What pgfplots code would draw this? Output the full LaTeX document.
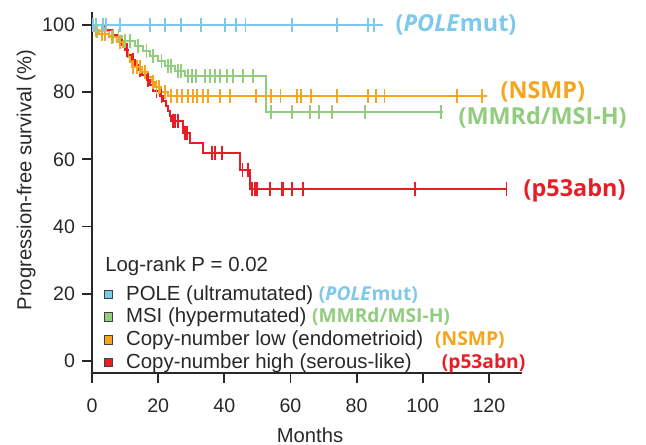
\documentclass[border=0pt]{standalone}
\usepackage{fontspec}
\setmainfont{Liberation Sans}
\newfontfamily\osans{Open Sans}
\usepackage{pgfplots}
\pgfplotsset{compat=1.18}

\definecolor{poleblue}{RGB}{125,200,235}
\definecolor{msigreen}{RGB}{145,205,125}
\definecolor{cnlorange}{RGB}{245,165,30}
\definecolor{cnhred}{RGB}{232,30,38}
\definecolor{axgray}{RGB}{40,40,40}

\newcommand{\tickfont}{\fontsize{9.8}{11}\selectfont}
\newcommand{\lblfont}{\fontsize{10.1}{12}\selectfont}
\newcommand{\legfont}{\fontsize{10.2}{12}\selectfont}
\newcommand{\tagfont}{\osans\bfseries\fontsize{11.7}{14}\selectfont}
\newcommand{\smtag}{\osans\bfseries\fontsize{9.6}{11}\selectfont}

\begin{document}
\begin{tikzpicture}
\begin{axis}[
  scale only axis, width=215pt, height=180.7pt,
  xmin=0, xmax=130, ymin=-3.6, ymax=104,
  axis lines=left,
  axis line style={-, line width=0.9pt, axgray},
  xtick={0,20,...,120}, ytick={0,20,...,100},
  tick align=outside, major tick length=5pt,
  tick style={line width=0.9pt, axgray},
  tick label style={font=\tickfont, text=axgray},
  xticklabel style={yshift=-4.5pt},
  /pgf/number format/assume math mode=true,
  xlabel={Months}, ylabel={Progression-free survival (\%)},
  label style={font=\lblfont, text=axgray},
  xlabel style={at={(axis description cs:0.507,-0.172)}, anchor=center},
  ylabel style={at={(axis description cs:-0.153,0.534)}, anchor=center},
  clip=false,
  legend image code/.code={\draw[#1] (0pt,-2.1pt) rectangle (4.2pt,2.1pt);
    \path[draw=none, fill=none] (0pt,0pt) (9.5pt,0pt);},
  legend style={at={(axis cs:3.4,23.5)}, anchor=north west, draw=none, fill=none,
    font=\legfont, inner sep=0pt, row sep=-0.5pt,
    nodes={inner sep=1.5pt, text=axgray}},
  legend cell align=left,
]
\coordinate (O) at (rel axis cs:0,0);

\addlegendimage{fill=poleblue, draw=black!75, line width=0.5pt}
\addlegendentry{POLE (ultramutated) \textcolor{poleblue}{\smtag(\textit{POLE}mut)}}
\addlegendimage{fill=msigreen, draw=black!75, line width=0.5pt}
\addlegendentry{MSI (hypermutated) \textcolor{msigreen}{\smtag(MMRd/MSI-H)}}
\addlegendimage{fill=cnlorange, draw=black!75, line width=0.5pt}
\addlegendentry{Copy-number low (endometrioid)\hspace{6pt}\textcolor{cnlorange}{\smtag(NSMP)}}
\addlegendimage{fill=cnhred, draw=black!75, line width=0.5pt}
\addlegendentry{Copy-number high (serous-like)\hspace{15pt}\textcolor{cnhred}{\smtag(p53abn)}}

% MSI (hypermutated)
\addplot[forget plot, const plot, msigreen, line width=1pt] coordinates {
(0,100)(0.5,98.3)(5,96.7)(9,95.2)(13,93.7)(15.5,92.2)(17.5,90.8)(20,89.3)(22,87.8)(25,86.3)(28,84.8)(52.6,74.1)(106,74.1)};
\addplot[forget plot, only marks, mark=|, mark size=3.5pt, msigreen, mark options={line width=0.9pt}] coordinates {
(1.5,98.3)(3,98.3)(6.5,96.7)(8,96.7)(10,95.2)(11.5,95.2)(14,93.7)(16.5,92.2)(18.5,90.8)(21,89.3)
(23,87.8)(24,87.8)(26,86.3)(27,86.3)
(29,84.8)(30.3,84.8)(31.5,84.8)(34.2,84.8)(35.7,84.8)(37.2,84.8)(38.7,84.8)(40.8,84.8)(42.7,84.8)(45.7,84.8)(48.7,84.8)
(54.2,74.1)(60.5,74.1)(66,74.1)(68.7,74.1)(72.6,74.1)(82.6,74.1)(105.6,74.1)};

% Copy-number high
\addplot[forget plot, const plot, cnhred, line width=1pt] coordinates {
(0,100)(4,98.5)(6,97)(7.5,95.5)(9,94)(10,92.5)(11,91)(12,89.5)(13,88)(14,86.5)(15,85)(16.5,83.5)(17.5,82)(18.5,80.5)
(20.5,79)(21.5,77.5)(22.5,76)(23,74.5)(23.5,73)(24,71.3)(27.5,67.9)(29.7,64.9)(33.6,62)(44.8,56.8)(47.8,51.2)(125.6,51.2)};
\addplot[forget plot, only marks, mark=|, mark size=3.5pt, cnhred, mark options={line width=0.9pt}] coordinates {
(10.5,92.5)(12.5,89.5)(14.5,86.5)(17,83.5)(19.5,80.5)(21,79)
(24.5,71.3)(25.1,71.3)(26,71.3)(28.1,67.9)(28.7,67.9)(36.3,62)(37.2,62)(39.3,62)(45.5,56.8)(47.2,56.8)
(48.4,51.2)(49.3,51.2)(49.9,51.2)(53.9,51.2)(57.5,51.2)(57.8,51.2)(60.5,51.2)(63.8,51.2)(97.7,51.2)(125.3,51.2)};

% Copy-number low
\addplot[forget plot, const plot, cnlorange, line width=1pt] coordinates {
(0,100)(0.8,98.5)(2,97.4)(5,96.4)(7.5,95)(9.5,93.5)(10.5,92)(11,90.5)(11.5,89)(12,87.5)(15,86)(17,84.5)(18,83)(19,81.5)
(21,80.2)(23,79)(119.5,79)};
\addplot[forget plot, only marks, mark=|, mark size=3.5pt, cnlorange, mark options={line width=0.9pt}] coordinates {
(0.4,100)(1.2,98.5)(3,97.4)(4,97.4)(6,96.4)(8.5,95)(12.5,87.5)(13.5,87.5)(14.5,87.5)(16,86)(18.5,83)(19.5,81.5)(20.3,81.5)(22,80.2)
(23.9,79)(25.7,79)(27.2,79)(29,79)(30.6,79)(31.8,79)(33.6,79)(35.1,79)(38.7,79)(41.8,79)(49.6,79)(54,79)(57,79)(62,79)
(63.2,79)(66.3,79)(74.1,79)(83.5,79)(85.9,79)(88.4,79)(110.4,79)(118,79)};

% POLE
\addplot[forget plot, const plot, poleblue, line width=1pt] coordinates {(0,100)(88,100)};
\addplot[forget plot, only marks, mark=|, mark size=3.5pt, poleblue, mark options={line width=0.9pt}] coordinates {
(0.3,100)(1.2,100)(3.3,100)(4.2,100)(8.5,100)(17.5,100)(22.1,100)(26.9,100)(33,100)(40.2,100)(43.6,100)(46.4,100)
(60.5,100)(74.1,100)(83.5,100)(85.3,100)};

\node[anchor=west, inner sep=0pt, text=poleblue, font=\tagfont] at (axis cs:91.7,100) {(\textit{POLE}mut)};
\node[anchor=west, inner sep=0pt, text=cnlorange, font=\tagfont] at (axis cs:123.4,80) {(NSMP)};
\node[anchor=west, inner sep=0pt, text=msigreen, font=\tagfont] at (axis cs:110.7,72.6) {(MMRd/MSI-H)};
\node[anchor=west, inner sep=0pt, text=cnhred, font=\tagfont] at (axis cs:130.4,50.9) {(p53abn)};
\node[anchor=west, inner sep=0pt, text=axgray, font=\legfont] at (axis cs:3.9,28.3) {Log-rank P = 0.02};
\end{axis}
\pgfresetboundingbox
\useasboundingbox ([shift={(-46pt,-35.5pt)}]O) rectangle ([shift={(277pt,186.5pt)}]O);
\end{tikzpicture}
\end{document}
